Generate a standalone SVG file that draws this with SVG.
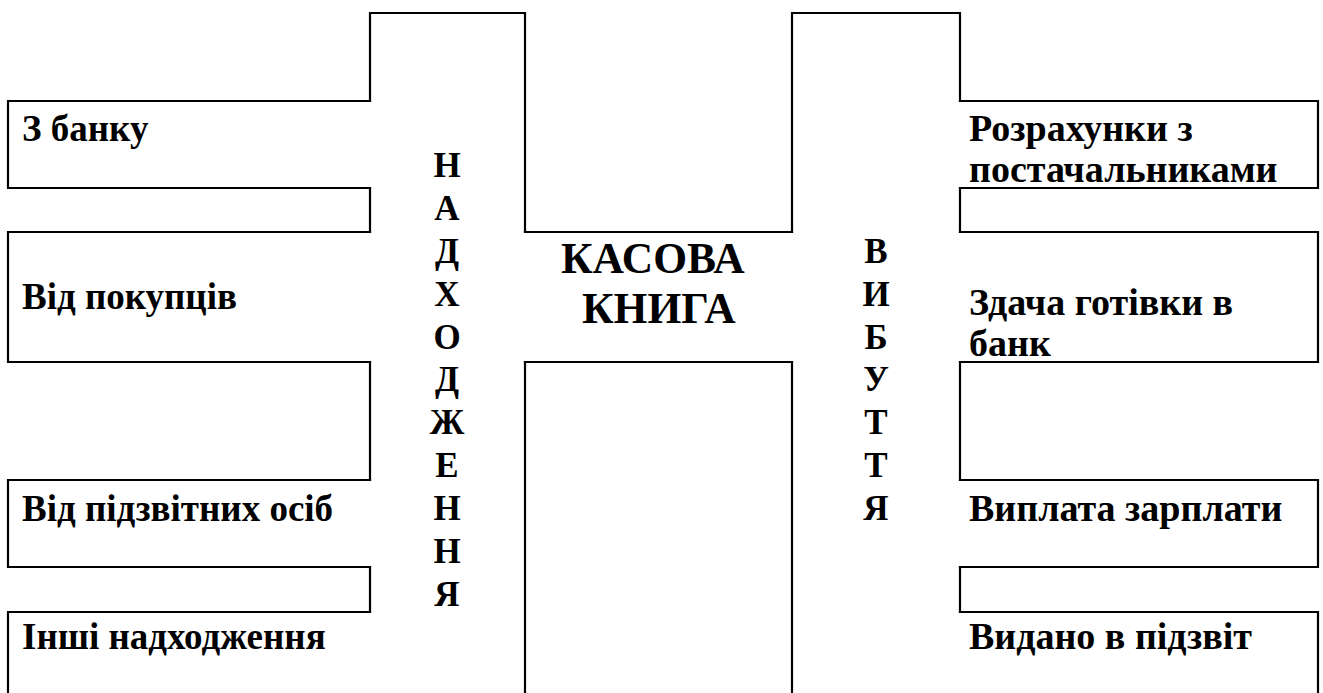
<svg xmlns="http://www.w3.org/2000/svg" width="1323" height="693" viewBox="0 0 1323 693">
<style>
.ln{fill:none;stroke:#000;stroke-width:2.2;stroke-linecap:square;stroke-linejoin:miter}
.t{font-family:"Liberation Serif","Times New Roman",serif;font-weight:bold;font-size:37px;fill:#000}
.r{font-family:"Liberation Serif","Times New Roman",serif;font-weight:bold;font-size:38px;fill:#000}
.v{font-family:"Liberation Serif","Times New Roman",serif;font-weight:bold;font-size:35px;fill:#000;text-anchor:middle}
.title{font-family:"Liberation Serif","Times New Roman",serif;font-weight:bold;font-size:43.5px;fill:#000}
</style>
<rect width="1323" height="693" fill="#fff"/>
<g id="income-column">
<path class="ln" d="M370,101 V13 H525 V232 M370,188 V232 M370,362 V480 M370,567 V612 M525,362 V700"/>
<text class="v" x="447"><tspan x="447" y="177">Н</tspan><tspan x="447" y="220">А</tspan><tspan x="447" y="263">Д</tspan><tspan x="447" y="306">Х</tspan><tspan x="447" y="349">О</tspan><tspan x="447" y="391">Д</tspan><tspan x="447" y="434">Ж</tspan><tspan x="447" y="477">Е</tspan><tspan x="447" y="520">Н</tspan><tspan x="447" y="563">Н</tspan><tspan x="447" y="606">Я</tspan></text>
</g>
<g id="cash-book">
<path class="ln" d="M525,232 H792 M525,362 H792"/>
<text class="title" x="561" y="273">КАСОВА</text>
<text class="title" x="582" y="323">КНИГА</text>
</g>
<g id="expense-column">
<path class="ln" d="M792,232 V13 H960 V101 M960,188 V232 M960,362 V480 M960,567 V612 M792,362 V700"/>
<text class="v" x="876"><tspan x="876" y="263">В</tspan><tspan x="876" y="306">И</tspan><tspan x="876" y="349">Б</tspan><tspan x="876" y="391">У</tspan><tspan x="876" y="434">Т</tspan><tspan x="876" y="477">Т</tspan><tspan x="876" y="520">Я</tspan></text>
</g>
<g id="from-bank">
<path class="ln" d="M370,101 H8 V188 H370"/>
<text class="t" x="22" y="141">З банку</text>
</g>
<g id="from-buyers">
<path class="ln" d="M370,232 H8 V362 H370"/>
<text class="t" x="22" y="309">Від покупців</text>
</g>
<g id="from-accountable">
<path class="ln" d="M370,480 H8 V567 H370"/>
<text class="t" x="22" y="521">Від підзвітних осіб</text>
</g>
<g id="other-income">
<path class="ln" d="M370,612 H8 V700"/>
<text class="t" x="22" y="649">Інші надходження</text>
</g>
<g id="suppliers">
<path class="ln" d="M960,101 H1318 V188 H960"/>
<text class="r" x="969"><tspan x="969" y="141">Розрахунки з</tspan><tspan x="969" y="182">постачальниками</tspan></text>
</g>
<g id="to-bank">
<path class="ln" d="M960,232 H1318 V362 H960"/>
<text class="r" x="969"><tspan x="969" y="315">Здача готівки в</tspan><tspan x="969" y="356">банк</tspan></text>
</g>
<g id="salary">
<path class="ln" d="M960,480 H1318 V567 H960"/>
<text class="r" x="969" y="521">Виплата зарплати</text>
</g>
<g id="advance">
<path class="ln" d="M960,612 H1318 V700"/>
<text class="r" x="969" y="649">Видано в підзвіт</text>
</g>
</svg>
